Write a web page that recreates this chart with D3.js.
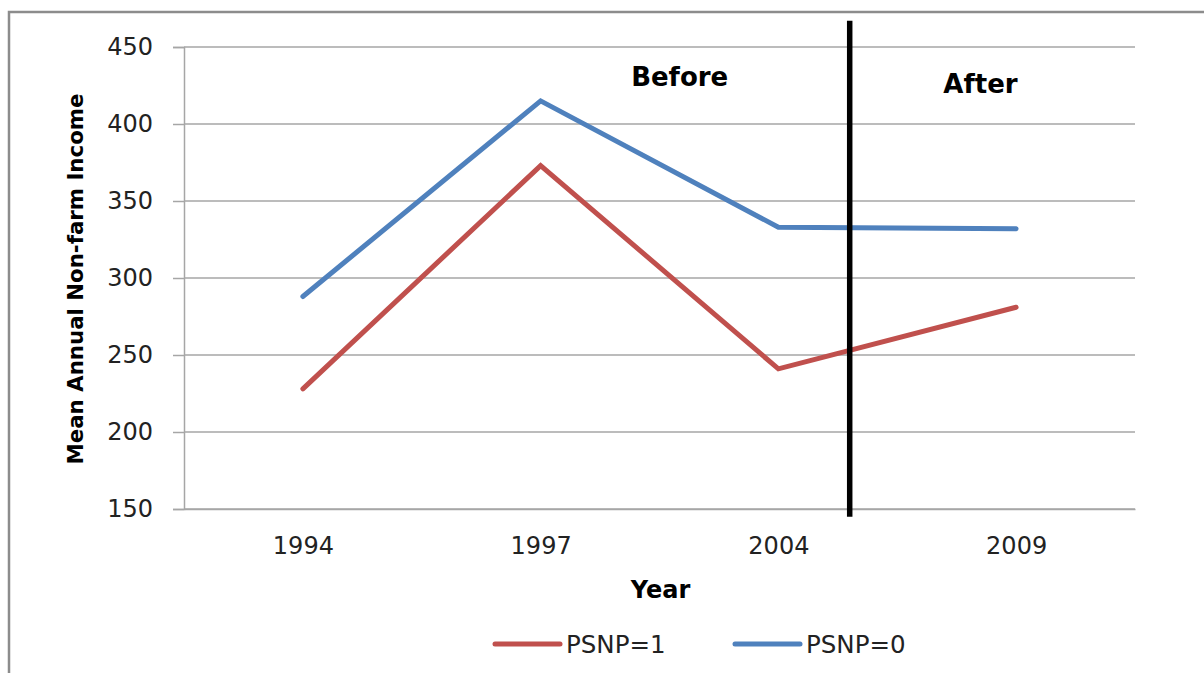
<!DOCTYPE html>
<html>
<head>
<meta charset="utf-8">
<script src="https://cdn.jsdelivr.net/npm/d3@7"></script>
<style>
  body { margin: 0; background: #fff; }
  text { font-family: "DejaVu Sans", Verdana, sans-serif; }
</style>
</head>
<body>
<script>
// chart values
const years = ['1994', '1997', '2004', '2009'];
const psnp1 = [228, 373, 241, 281];
const psnp0 = [288, 415, 333, 332];
const yTicks = [150, 200, 250, 300, 350, 400, 450];
// divider between 2004 and 2009, in category-index units, and its value extent
const dividerAt = [2.3];
const dividerSpan = [145, 467];

const width = 1204;
const height = 673;
const margin = { top: 47, left: 184, right: 69, bottom: 164 };
const plotW = width - margin.left - margin.right;
const plotH = height - margin.top - margin.bottom;

const svg = d3.select('body').append('svg').attr('width', width).attr('height', height);

// outer chart border (runs off the page on the right and bottom)
svg.append('rect')
  .attr('x', 9).attr('y', 12)
  .attr('width', 1300).attr('height', 800)
  .attr('fill', 'none')
  .attr('stroke', '#8c8c8c')
  .attr('stroke-width', 2.5);

const x = d3.scalePoint().domain(years).range([0, plotW]).padding(0.5);
const y = d3.scaleLinear().domain([150, 450]).range([plotH, 0]);
const xIdx = i => x(years[0]) + i * x.step();

const g = svg.append('g').attr('transform', `translate(${margin.left},${margin.top})`);

// gridlines
g.append('g')
  .selectAll('line')
  .data(yTicks)
  .enter().append('line')
    .attr('x1', 0).attr('x2', plotW)
    .attr('y1', d => y(d)).attr('y2', d => y(d))
    .attr('stroke', '#a6a6a6')
    .attr('stroke-width', 1.5);

// y axis
const yAxis = g.append('g')
  .call(d3.axisLeft(y).tickValues(yTicks).tickSize(11).tickPadding(20));
yAxis.select('.domain').attr('stroke', '#a6a6a6').attr('stroke-width', 1.5);
yAxis.selectAll('.tick line').attr('stroke', '#a6a6a6').attr('stroke-width', 1.5);
yAxis.selectAll('.tick text')
  .attr('font-size', 24).attr('fill', '#222')
  .style('font-family', '"DejaVu Sans", Verdana, sans-serif');

// x axis
const xAxis = g.append('g')
  .attr('transform', `translate(0,${plotH})`)
  .call(d3.axisBottom(x).tickSize(0).tickPadding(28));
xAxis.select('.domain').attr('stroke', '#a6a6a6').attr('stroke-width', 1.5);
xAxis.selectAll('.tick text')
  .attr('font-size', 24).attr('fill', '#222')
  .style('font-family', '"DejaVu Sans", Verdana, sans-serif');

// series
const line = d3.line().x((d, i) => x(years[i])).y(d => y(d));
const series = [
  { name: 'PSNP=1', values: psnp1, color: '#c0504d' },
  { name: 'PSNP=0', values: psnp0, color: '#4f81bd' },
];
g.selectAll('.series')
  .data(series)
  .enter().append('path')
    .attr('class', 'series')
    .attr('d', d => line(d.values))
    .attr('fill', 'none')
    .attr('stroke', d => d.color)
    .attr('stroke-width', 5)
    .attr('stroke-linecap', 'round')
    .attr('stroke-linejoin', 'miter');

// before / after divider
g.selectAll('.divider')
  .data(dividerAt)
  .enter().append('line')
    .attr('class', 'divider')
    .attr('x1', d => xIdx(d)).attr('x2', d => xIdx(d))
    .attr('y1', y(dividerSpan[0])).attr('y2', y(dividerSpan[1]))
    .attr('stroke', '#000')
    .attr('stroke-width', 5.5);

g.append('text')
  .attr('x', xIdx(1.585)).attr('y', y(425))
  .attr('text-anchor', 'middle')
  .attr('font-size', 26).attr('font-weight', 'bold')
  .text('Before');
g.append('text')
  .attr('x', xIdx(2.85)).attr('y', y(420))
  .attr('text-anchor', 'middle')
  .attr('font-size', 26).attr('font-weight', 'bold')
  .text('After');

// axis titles
svg.append('text')
  .attr('text-anchor', 'middle')
  .attr('transform', `translate(${margin.left + plotW / 2 + 1}, 598)`)
  .attr('font-size', 24).attr('font-weight', 'bold')
  .text('Year');
svg.append('text')
  .attr('text-anchor', 'middle')
  .attr('transform', `translate(83, ${margin.top + plotH / 2 + 1}) rotate(-90)`)
  .attr('font-size', 21.3).attr('font-weight', 'bold')
  .text('Mean Annual Non-farm Income');

// legend
const legend = svg.append('g').attr('transform', 'translate(495, 644)');
const item = legend.selectAll('g')
  .data(series)
  .enter().append('g')
    .attr('transform', (d, i) => `translate(${i * 240}, 0)`);
item.append('line')
  .attr('x1', 0).attr('x2', 65)
  .attr('stroke', d => d.color)
  .attr('stroke-width', 5)
  .attr('stroke-linecap', 'round');
item.append('text')
  .attr('x', 71).attr('y', 9)
  .attr('font-size', 24.5).attr('fill', '#222')
  .text(d => d.name);
</script>
</body>
</html>
